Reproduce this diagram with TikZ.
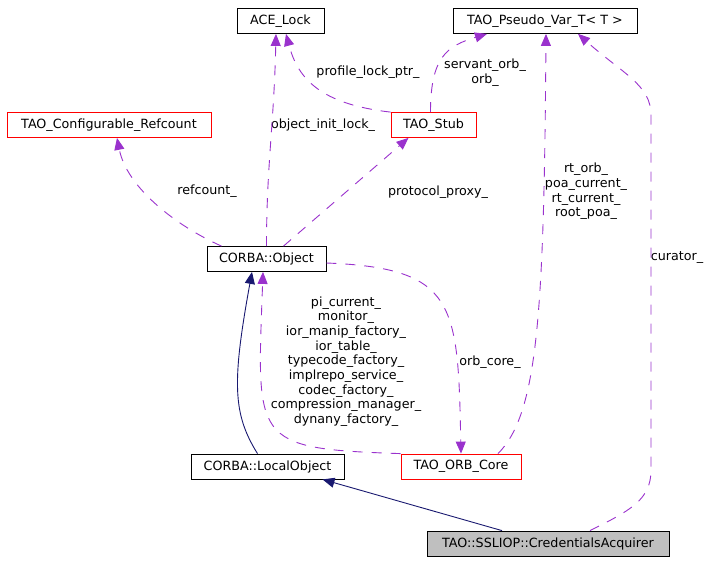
\documentclass[tikz,border=0pt]{standalone}
\usepackage{fontspec}
\setmainfont{DejaVu Sans}
\usetikzlibrary{arrows.meta}
\definecolor{memberline}{HTML}{9A32CD}
\definecolor{inheritline}{HTML}{191970}
\definecolor{boxgray}{HTML}{BFBFBF}

\begin{document}
\begin{tikzpicture}[x=1pt,y=-1pt,
  every node/.style={font=\fontsize{12.7}{14.7}\selectfont},
  classbox/.style={draw=black,line width=0.8pt,inner sep=0pt,minimum height=25pt},
  redbox/.style={classbox,draw=red},
  mainbox/.style={classbox,fill=boxgray},
  edgelabel/.style={inner sep=0pt,align=center},
  member/.style={draw=memberline,line width=0.9pt,dash pattern=on 10pt off 9pt,
    -{Triangle[length=12pt,width=10pt]}},
  inherit/.style={draw=inheritline,line width=0.9pt,-{Triangle[length=12pt,width=10pt]}}]
  \useasboundingbox (0,0) rectangle (712,563);

  \node[classbox,minimum width=87pt] (acelock) at (280.5,21) {ACE\_Lock};
  \node[classbox,minimum width=184pt] (pseudovar) at (545,21) {TAO\_Pseudo\_Var\_T< T >};
  \node[redbox,minimum width=204pt] (refcount) at (109,125) {TAO\_Configurable\_Refcount};
  \node[redbox,minimum width=85pt] (stub) at (433.5,125) {TAO\_Stub};
  \node[classbox,minimum width=119pt] (object) at (266.5,259) {CORBA::Object};
  \node[classbox,minimum width=153pt] (localobject) at (267.5,466.5) {CORBA::LocalObject};
  \node[redbox,minimum width=120pt] (orbcore) at (461,466.5) {TAO\_ORB\_Core};
  \node[mainbox,minimum width=242pt] (acquirer) at (548,543.5) {TAO::SSLIOP::CredentialsAcquirer};

  \node[edgelabel] (lblinit) at (323,125) {object\_init\_lock\_};
  \node[edgelabel] (lblprofile) at (368,72) {profile\_lock\_ptr\_};
  \node[edgelabel] (lblservant) at (485,73) {servant\_orb\_\\orb\_};
  \node[edgelabel] (lblproxy) at (438,192) {protocol\_proxy\_};
  \node[edgelabel] (lblrefcount) at (207,191) {refcount\_};
  \node[edgelabel] (lblorbcore) at (490,362) {orb\_core\_};
  \node[edgelabel] (lblorbmembers) at (346,361.5) {pi\_current\_\\monitor\_\\ior\_manip\_factory\_\\ior\_table\_\\typecode\_factory\_\\implrepo\_service\_\\codec\_factory\_\\compression\_manager\_\\dynany\_factory\_};
  \node[edgelabel] (lblpseudo) at (586,191.5) {rt\_orb\_\\poa\_current\_\\rt\_current\_\\root\_poa\_};
  \node[edgelabel] (lblcurator) at (677,258) {curator\_};

  \draw[member] (object.north) .. controls +(0,-80) and +(-2,90) .. ([xshift=-4.5pt]acelock.south);
  \draw[member] (stub.north west) .. controls +(-70,-8) and +(12,45) .. ([xshift=5.5pt]acelock.south);
  \draw[member] ([xshift=-3pt]stub.north) .. controls +(0,-55) and +(-40,12) .. ([xshift=-58pt]pseudovar.south);
  \draw[member] ([xshift=17pt]object.north) -- ([xshift=-25pt]stub.south);
  \draw[member] ([xshift=-45pt]object.north) .. controls +(-45,-20) and +(10,50) .. ([xshift=8pt]refcount.south);
  \draw[member] ([yshift=-4pt]object.east) .. controls +(130,5) and +(-3,-150) .. (orbcore.north);
  \draw[member] (orbcore.north west) .. controls +(-150,-5) and +(-6,170) .. ([xshift=-3.5pt]object.south);
  \draw[member] ([xshift=37pt]orbcore.north) .. controls +(40,-40) and +(-2,280) .. ([xshift=1pt]pseudovar.south);
  \coordinate (curatorlow) at (651,470);
  \coordinate (curatorhigh) at (651,115);
  \draw[member] ([xshift=42pt]acquirer.north) .. controls +(40,-20) and +(0,30) .. (curatorlow)
    -- (curatorhigh) .. controls +(0,-30) and +(45,40) .. ([xshift=33pt]pseudovar.south);

  \draw[inherit] ([xshift=-10pt]localobject.north) .. controls +(-25,-40) and +(-20,110) .. ([xshift=-14.5pt]object.south);
  \draw[inherit] ([xshift=-46pt]acquirer.north) -- ([xshift=55pt]localobject.south);
\end{tikzpicture}
\end{document}
